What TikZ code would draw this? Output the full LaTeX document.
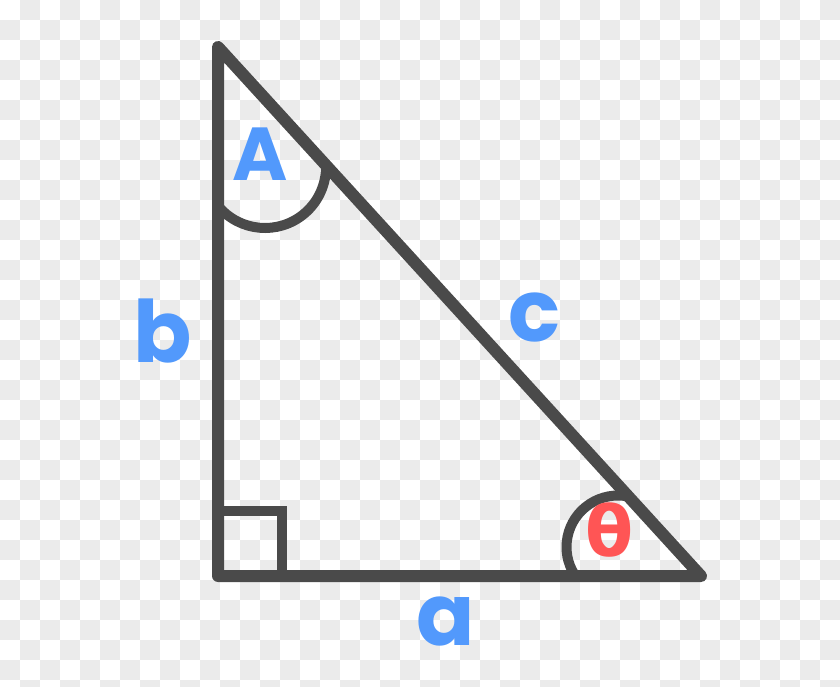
\documentclass[tikz,border=0pt]{standalone}
\usepackage{fontspec}
\usetikzlibrary{calc}
\newfontfamily\labfont{Poppins Bold}
\newfontfamily\grkfont{DejaVu Sans Bold}
\definecolor{edge}{HTML}{4A4A4A}
\definecolor{lblue}{HTML}{5299FC}
\definecolor{lred}{HTML}{FF5555}
\definecolor{chk}{HTML}{EBEBEB}
\tikzset{
  tri/.style={draw=edge, line width=12pt, line join=round, line cap=round},
  thinline/.style={draw=edge, line width=10pt},
  lbl/.style={inner sep=0pt, text=lblue, font=\labfont\fontsize{86}{86}\selectfont},
}
\begin{document}
\begin{tikzpicture}[x=1pt,y=1pt]
\useasboundingbox (0,0) rectangle (840,686);
\clip (0,0) rectangle (840,686);
\fill[white] (0,0) rectangle (840,686);
\foreach \i in {1,3,...,41} \foreach \j in {0,2,...,34}
  \fill[chk] (20*\i, 686-20*\j) rectangle ++(20,-20);
\foreach \i in {0,2,...,40} \foreach \j in {1,3,...,33}
  \fill[chk] (20*\i, 686-20*\j) rectangle ++(20,-20);
% vertices
\coordinate (A) at (218,639);
\coordinate (C) at (218,110);
\coordinate (B) at (701,110);
\coordinate (cA) at (265,519);
\coordinate (cB) at (618,139);
% right angle mark
\draw[thinline] ($(C)+(0,65)$) -- ++(64,0) -- ++(0,-65);
% angle arcs
\draw[thinline] ($(cA)+(219.7:61)$) arc[start angle=219.7, end angle=361.9, radius=61];
\draw[thinline] ($(cB)+(213.1:51.5)$) arc[start angle=213.1, end angle=78.2, radius=51.5];
% triangle
\draw[tri] (A) -- (C) -- (B) -- cycle;
% labels
\node[lbl, font=\labfont\fontsize{75}{75}\selectfont] (lA) at (260.5,532) {A};
\node[lbl] (lb) at (162.5,355) {b};
\node[lbl] (lc) at (534.5,368) {c};
\node[lbl] (la) at (446,64.5) {a};
\node[inner sep=0pt, text=lred, font=\grkfont\fontsize{70}{70}\selectfont] (lt) at (610,156) {θ};
\end{tikzpicture}
\end{document}
